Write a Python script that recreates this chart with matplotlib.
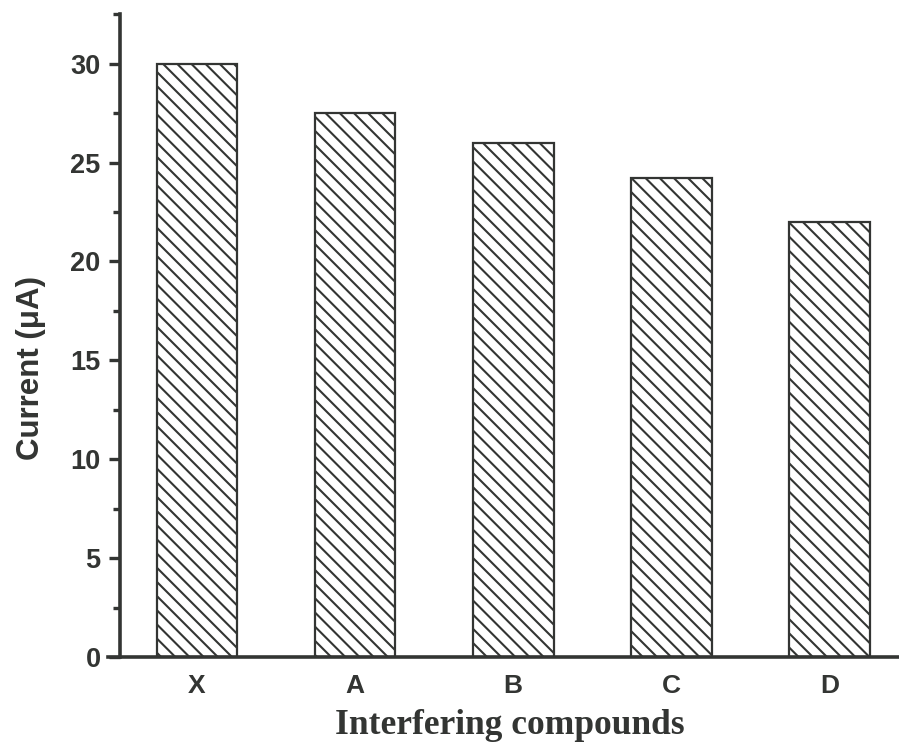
import matplotlib
matplotlib.use("Agg")
import matplotlib.pyplot as plt
from matplotlib.lines import Line2D
from matplotlib.ticker import MultipleLocator

compounds = ["X", "A", "B", "C", "D"]
current_uA = [30.0, 27.5, 26.0, 24.2, 22.0]

# The hatch tile is one inch of output, so a lower dpi gives a finer hatch;
# point sizes are scaled by S to keep the same pixel sizes.
DPI = 85
S = 100 / DPI

ink = "#333533"
plt.rcParams["hatch.linewidth"] = 1.5 * S
plt.rcParams["hatch.color"] = ink

fig = plt.figure(figsize=(899 / DPI, 749 / DPI), dpi=DPI)
ax = fig.add_axes([0.1335, 0.1228, 0.8665, 0.8582])

x = list(range(len(compounds)))
ax.bar(x, current_uA, width=0.51, color="white", edgecolor=ink,
       linewidth=1.6 * S, hatch="\\\\")

ax.set_xlim(-0.487, 4.44)
ax.set_ylim(0, 32.5)

for side in ("top", "right", "bottom"):
    ax.spines[side].set_visible(False)
ax.spines["left"].set_color(ink)
ax.spines["left"].set_linewidth(2.6 * S)
# bottom axis line overshoots the y axis slightly to the left
ax.add_line(Line2D([-0.016, 1.0], [0, 0], transform=ax.transAxes,
                   color=ink, linewidth=2.6 * S, clip_on=False, zorder=5))

ax.yaxis.set_major_locator(MultipleLocator(5))
ax.yaxis.set_minor_locator(MultipleLocator(2.5))
ax.tick_params(axis="y", which="major", direction="out", length=8 * S,
               width=2.4 * S, color=ink, pad=6 * S)
ax.tick_params(axis="y", which="minor", direction="out", length=5 * S,
               width=2.4 * S, color=ink)
ax.set_xticks(x)
ax.set_xticklabels(compounds)
ax.tick_params(axis="x", length=0, pad=12 * S)

for lab in ax.get_yticklabels():
    lab.set_fontfamily("Liberation Sans")
    lab.set_fontweight("bold")
    lab.set_fontsize(19.5 * S)
    lab.set_color(ink)
for lab in ax.get_xticklabels():
    lab.set_fontfamily("Liberation Sans")
    lab.set_fontweight("bold")
    lab.set_fontsize(19 * S)
    lab.set_color(ink)

ax.set_ylabel("Current (μA)", fontfamily="Liberation Sans", fontweight="bold",
              fontsize=22.5 * S, color=ink)
ax.yaxis.set_label_coords(-0.095, 0.449)
ax.set_xlabel("Interfering compounds", fontfamily="Liberation Serif",
              fontweight="bold", fontsize=25.5 * S, color=ink, labelpad=8 * S)

fig.savefig("out.png", dpi=DPI, facecolor="white")
